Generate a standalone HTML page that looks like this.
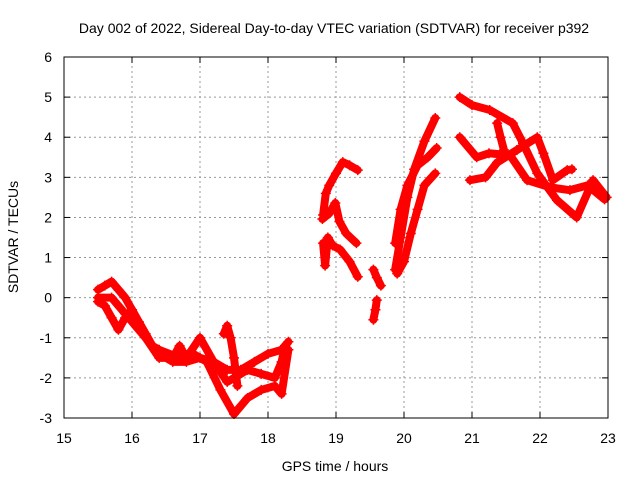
<!DOCTYPE html>
<html><head><meta charset="utf-8"><style>
html,body{margin:0;padding:0;background:#fff;}
svg{display:block;font-family:"Liberation Sans",sans-serif;}
</style></head><body>
<svg id="chart" width="640" height="480" viewBox="0 0 640 480" xmlns="http://www.w3.org/2000/svg">
<rect width="640" height="480" fill="#fff"/>
<text x="334" y="33" font-size="14" text-anchor="middle" fill="#000">Day 002 of 2022, Sidereal Day-to-day VTEC variation (SDTVAR) for receiver p392</text>
<text x="335" y="471" font-size="14" text-anchor="middle">GPS time / hours</text>
<text x="18" y="237" font-size="14" text-anchor="middle" transform="rotate(-90 18 237)">SDTVAR / TECUs</text>
<g id="grid"></g><g id="ticks"></g><g id="series"></g>
<rect x="64" y="57" width="544" height="361" fill="none" stroke="#000" stroke-width="1"/>
</svg>
<script>
const xTicks=[15,16,17,18,19,20,21,22,23];
const yTicks=[-3,-2,-1,0,1,2,3,4,5,6];
const trackA1=[[15.5,0.2],[15.6,0.3],[15.7,0.4],[15.8,0.2],[15.9,0.0],[16.0,-0.3],[16.1,-0.6],[16.2,-0.9],[16.3,-1.2],[16.4,-1.4],[16.6,-1.6],[16.8,-1.6],[17.0,-1.5],[17.2,-1.6],[17.4,-1.8],[17.6,-1.8],[17.8,-1.6],[18.0,-1.4],[18.2,-1.3],[18.3,-1.1]];
const trackA2=[[15.5,-0.1],[15.6,-0.2],[15.7,-0.5],[15.8,-0.8],[15.9,-0.5],[16.0,-0.3],[16.2,-1.0],[16.4,-1.5],[16.6,-1.5],[16.7,-1.2],[16.8,-1.5],[17.0,-1.0],[17.2,-1.6],[17.4,-2.1],[17.5,-2.0],[17.7,-1.8],[17.9,-1.9],[18.1,-2.0],[18.2,-1.6],[18.25,-1.2]];
const trackA3=[[15.5,0.0],[15.7,0.0],[15.9,-0.4],[16.1,-0.8],[16.2,-1.0],[16.3,-1.2],[16.4,-1.3],[16.7,-1.5],[16.9,-1.4],[17.1,-1.6],[17.3,-2.3],[17.5,-2.9],[17.7,-2.5],[17.9,-2.3],[18.1,-2.2],[18.2,-2.4],[18.3,-1.3]];
const trackA4=[[17.35,-0.9],[17.4,-0.7],[17.45,-1.0],[17.5,-1.5],[17.55,-2.2]];
const trackB1=[[18.81,2.06],[18.85,2.6],[18.9,2.8],[19.0,3.1],[19.1,3.38],[19.2,3.3],[19.32,3.18]];
const trackB2=[[18.8,1.96],[18.9,2.1],[18.99,2.36],[19.05,1.9],[19.15,1.6],[19.3,1.36]];
const trackB3=[[18.81,1.36],[18.84,0.8],[18.88,1.5],[18.95,1.3],[19.06,1.2],[19.2,0.9],[19.32,0.52]];
const trackB4=[[19.55,0.7],[19.6,0.5],[19.66,0.3]];
const trackB5=[[19.6,-0.06],[19.58,-0.3],[19.55,-0.55]];
const trackC1=[[19.87,0.7],[19.95,1.5],[20.05,2.5],[20.15,3.2],[20.3,3.9],[20.46,4.48]];
const trackC2=[[19.87,1.36],[19.95,2.2],[20.05,2.8],[20.2,3.3],[20.35,3.5],[20.48,3.73]];
const trackC3=[[19.9,0.6],[20.0,0.9],[20.1,1.6],[20.2,2.2],[20.3,2.8],[20.46,3.1]];
const trackD1=[[20.82,5.0],[21.0,4.8],[21.26,4.68],[21.6,4.35],[21.75,3.85],[21.96,3.1],[22.25,2.43],[22.54,2.0],[22.78,2.93],[22.98,2.5]];
const trackD2=[[20.82,4.0],[21.07,3.5],[21.25,3.6],[21.56,3.55],[21.81,2.93],[22.15,2.75],[22.44,2.68],[22.7,2.8],[22.95,2.45]];
const trackD3=[[20.97,2.93],[21.2,3.0],[21.37,3.37],[21.66,3.68],[21.96,4.0],[22.05,3.6],[22.19,2.93],[22.4,3.18],[22.47,3.2]];
const trackD4=[[21.37,4.35],[21.42,4.0],[21.47,3.68]];
const tracks=[trackA1,trackA2,trackA3,trackA4,trackB1,trackB2,trackB3,trackB4,trackB5,trackC1,trackC2,trackC3,trackD1,trackD2,trackD3,trackD4];

const X0=64,X1=608,Y0=418,Y1=57;
function xs(t){return X0+(t-15)/(23-15)*(X1-X0);}
function ys(v){return Y0-(v-(-3))/(6-(-3))*(Y0-Y1);}
const NS="http://www.w3.org/2000/svg";
function mk(tag,attrs,parent){const e=document.createElementNS(NS,tag);for(const k in attrs)e.setAttribute(k,attrs[k]);parent.appendChild(e);return e;}
const grid=document.getElementById('grid'),ticks=document.getElementById('ticks'),series=document.getElementById('series');
xTicks.forEach(t=>{const x=xs(t);
 if(t>15&&t<23){const g=mk('line',{x1:x,x2:x,y1:Y0,y2:Y1,stroke:'#999','stroke-dasharray':'2,3'},grid);
 
 }
 mk('line',{x1:x,x2:x,y1:Y0,y2:Y0-6,stroke:'#000'},ticks);
 mk('line',{x1:x,x2:x,y1:Y1,y2:Y1+6,stroke:'#000'},ticks);
 const l=mk('text',{x:x,y:443,'font-size':14,'text-anchor':'middle'},ticks);l.textContent=t;
 
 
});
yTicks.forEach(v=>{const y=ys(v);
 if(v>-3&&v<6){const g=mk('line',{x1:X0,x2:X1,y1:y,y2:y,stroke:'#999','stroke-dasharray':'2,3'},grid);
 
 }
 mk('line',{x1:X0,x2:X0+6,y1:y,y2:y,stroke:'#000'},ticks);
 mk('line',{x1:X1,x2:X1-6,y1:y,y2:y,stroke:'#000'},ticks);
 const l=mk('text',{x:52,y:y+5,'font-size':14,'text-anchor':'end'},ticks);l.textContent=v;
 
 
});
tracks.forEach((tr,i)=>{
 const pts=tr.map(p=>xs(p[0])+','+ys(p[1])).join(' ');
 const pl=mk('polyline',{points:pts,fill:'none',stroke:'#f00','stroke-width':8,'stroke-linejoin':'round','stroke-linecap':'round'},series);
 
 
 tr.forEach(p=>{const x=xs(p[0]),y=ys(p[1]);
  const m=mk('path',{d:`M${x-5},${y}h10M${x},${y-5}v10`,stroke:'#f00','stroke-width':1.5},series);
  
  
 });
});
</script>
</body></html>
